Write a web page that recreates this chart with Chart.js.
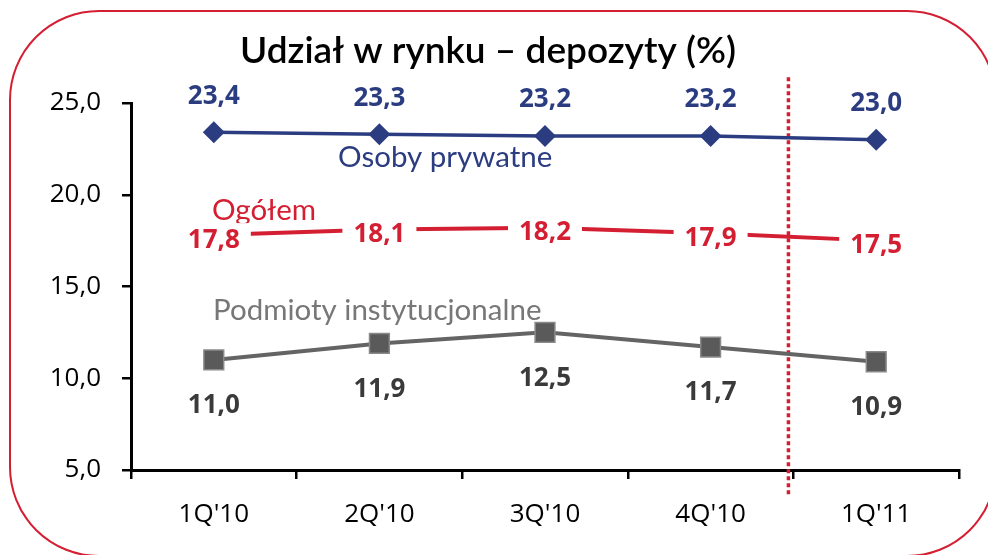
<!DOCTYPE html>
<html>
<head>
<meta charset="utf-8">
<script src="https://cdn.jsdelivr.net/npm/chart.js@4.4.1/dist/chart.umd.min.js"></script>
<style>
  html, body { margin: 0; padding: 0; background: #fff; }
  #wrap { position: absolute; left: 0; top: 0; width: 988px; height: 555px; overflow: hidden; }
  #frame { position: absolute; left: 9px; top: 10px; width: 988px; height: 547px; border: 2.5px solid #d41f33; border-radius: 90px; box-sizing: border-box; pointer-events: none; }
  canvas { position: absolute; left: 0; top: 0; }
</style>
</head>
<body>
<div id="wrap">
  <canvas id="c" width="988" height="555"></canvas>
  <div id="frame"></div>
</div>
<script>
const categories = ["1Q'10", "2Q'10", "3Q'10", "4Q'10", "1Q'11"];
const osobyPrywatne = [23.4, 23.3, 23.2, 23.2, 23.0];
const ogolem = [17.8, 18.1, 18.2, 17.9, 17.5];
const podmiotyInstytucjonalne = [11.0, 11.9, 12.5, 11.7, 10.9];
const yTicks = [5, 10, 15, 20, 25];
const titleText = "Udział w rynku – depozyty (%)";
const seriesNames = ["Osoby prywatne", "Ogółem", "Podmioty instytucjonalne"];
// divider between 4Q'10 and 1Q'11 (category index position, value range)
const dividerIndex = 3.47;
const dividerRange = [3.64, 26.4];

const BLUE = '#2b3d80', RED = '#d41f33', GRAY = '#646464';
const fmt = v => v.toFixed(1).replace('.', ',');

const overlay = {
  id: 'overlay',
  beforeDatasetsDraw(chart) {
    const ctx = chart.ctx, x = chart.scales.x, y = chart.scales.y;
    const px = x.getPixelForValue(dividerIndex);
    ctx.save();
    ctx.strokeStyle = RED;
    ctx.lineWidth = 3.5;
    ctx.setLineDash([4, 3]);
    ctx.beginPath();
    ctx.moveTo(px, y.getPixelForValue(dividerRange[1]));
    ctx.lineTo(px, y.getPixelForValue(dividerRange[0]));
    ctx.stroke();
    ctx.restore();
  },
  afterDatasetsDraw(chart) {
    const ctx = chart.ctx;
    ctx.save();
    // title
    ctx.fillStyle = '#000';
    ctx.font = '600 37px Lato';
    ctx.textAlign = 'center';
    ctx.textBaseline = 'alphabetic';
    ctx.fillText(titleText, 488, 63);
    // series names
    ctx.textAlign = 'left';
    ctx.font = '29.5px Lato';
    ctx.fillStyle = BLUE;
    ctx.fillText(seriesNames[0], 338, 167);
    ctx.fillStyle = RED;
    ctx.fillText(seriesNames[1], 212, 220);
    ctx.fillStyle = '#777';
    ctx.fillText(seriesNames[2], 213, 320);
    // data labels
    ctx.font = 'bold 26px "Open Sans"';
    ctx.textAlign = 'center';
    ctx.textBaseline = 'middle';
    const specs = [
      {i: 0, color: BLUE, dy: -37, box: false},
      {i: 1, color: RED, dy: 4, box: true},
      {i: 2, color: '#3a3a3a', dy: 45, box: false}
    ];
    specs.forEach(s => {
      const meta = chart.getDatasetMeta(s.i);
      const data = chart.data.datasets[s.i].data;
      meta.data.forEach((pt, k) => {
        const t = fmt(data[k]);
        const w = ctx.measureText(t).width;
        if (s.box) {
          ctx.fillStyle = '#fff';
          ctx.fillRect(pt.x - w / 2 - 11, pt.y + s.dy - 16, w + 22, 32);
        }
        ctx.fillStyle = s.color;
        ctx.fillText(t, pt.x, pt.y + s.dy + 1);
      });
    });
    ctx.restore();
  }
};

new Chart(document.getElementById('c'), {
  type: 'line',
  data: {
    labels: categories,
    datasets: [
      { label: seriesNames[0], data: osobyPrywatne, borderColor: BLUE, backgroundColor: BLUE,
        borderWidth: 3.5, pointStyle: 'rectRot', pointRadius: 11, pointBorderWidth: 0, tension: 0 },
      { label: seriesNames[1], data: ogolem, borderColor: RED, backgroundColor: RED,
        borderWidth: 4, pointRadius: 0, tension: 0 },
      { label: seriesNames[2], data: podmiotyInstytucjonalne, borderColor: GRAY, backgroundColor: '#5a5a5a',
        borderWidth: 4, pointStyle: 'rect', pointRadius: 14, pointBorderWidth: 1.5, pointBorderColor: '#8a8a8a', tension: 0 }
    ]
  },
  options: {
    responsive: false,
    animation: false,
    devicePixelRatio: 1,
    layout: { padding: { left: 0, top: 103, right: 29, bottom: 0 } },
    plugins: { legend: { display: false }, tooltip: { enabled: false }, title: { display: false } },
    scales: {
      x: {
        offset: true,
        grid: { display: true, offset: true, drawOnChartArea: false, drawTicks: true, tickLength: 9, color: '#000', lineWidth: 2.5 },
        border: { display: true, color: '#000', width: 3 },
        ticks: { color: '#000', font: { family: 'Open Sans', size: 26 }, padding: 20, maxRotation: 0 },
        afterFit: s => { s.height = 85; }
      },
      y: {
        min: 5, max: 25,
        afterBuildTicks: s => { s.ticks = yTicks.map(v => ({ value: v })); },
        grid: { display: true, drawOnChartArea: false, drawTicks: true, tickLength: 9, color: '#000', lineWidth: 2.5 },
        border: { display: true, color: '#000', width: 3 },
        ticks: { color: '#000', font: { family: 'Open Sans', size: 26 }, padding: 21, callback: v => fmt(v) },
        afterFit: s => { s.width = 131; }
      }
    }
  },
  plugins: [overlay]
});
</script>
</body>
</html>
